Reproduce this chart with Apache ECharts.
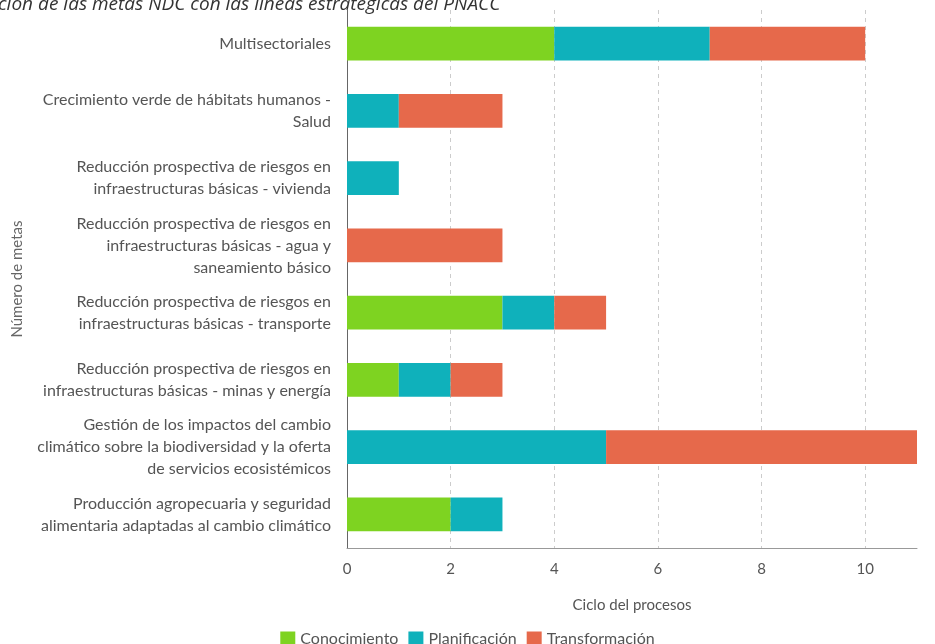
<!DOCTYPE html>
<html>
<head>
<meta charset="utf-8">
<script src="https://cdn.jsdelivr.net/npm/echarts@6/dist/echarts.min.js"></script>
<style>
  html, body { margin: 0; padding: 0; background: #fff; }
  #chart { width: 935px; height: 644px; }
</style>
</head>
<body>
<div id="chart"></div>
<script>
// categorias de arriba hacia abajo (eje category invertido)
var categorias = [
  'Multisectoriales',
  'Crecimiento verde de hábitats humanos -\nSalud',
  'Reducción prospectiva de riesgos en\ninfraestructuras básicas - vivienda',
  'Reducción prospectiva de riesgos en\ninfraestructuras básicas - agua y\nsaneamiento básico',
  'Reducción prospectiva de riesgos en\ninfraestructuras básicas - transporte',
  'Reducción prospectiva de riesgos en\ninfraestructuras básicas - minas y energía',
  'Gestión de los impactos del cambio\nclimático sobre la biodiversidad y la oferta\nde servicios ecosistémicos',
  'Producción agropecuaria y seguridad\nalimentaria adaptadas al cambio climático'
];
var conocimiento   = [4, 0, 0, 0, 3, 1, 0, 2];
var planificacion  = [3, 1, 1, 0, 1, 1, 5, 1];
var transformacion = [3, 2, 0, 3, 1, 1, 6, 0];
var ticksX = [0, 2, 4, 6, 8, 10];

var chart = echarts.init(document.getElementById('chart'));

var serie = function(nombre, datos, color){
  return {
    name: nombre,
    type: 'bar',
    stack: 'total',
    barWidth: '50%',
    itemStyle: { color: color },
    data: datos.map(function(v){ return v === 0 ? null : v; })
  };
};

var option = {
  textStyle: { fontFamily: 'Lato, "Open Sans", sans-serif' },
  graphic: [{
    type: 'text',
    left: -2,
    top: -5,
    style: {
      text: 'ción de las metas NDC con las líneas estratégicas del PNACC',
      font: 'italic 19px "Open Sans", sans-serif',
      fill: '#333'
    }
  }],
  legend: {
    bottom: -8,
    left: 'center',
    itemWidth: 15,
    itemHeight: 15,
    itemGap: 10,
    icon: 'rect',
    textStyle: { color: '#555', fontSize: 16, fontFamily: 'Lato' },
    data: ['Conocimiento', 'Planificación', 'Transformación']
  },
  grid: { left: 347, right: 18, top: 10, bottom: 96 },
  xAxis: {
    type: 'value',
    min: 0,
    max: 11,
    interval: 2,
    name: 'Ciclo del procesos',
    nameLocation: 'middle',
    nameGap: 50,
    nameTextStyle: { color: '#555', fontSize: 15 },
    axisLine: { show: true, lineStyle: { color: '#999' } },
    axisTick: { show: false },
    axisLabel: {
      color: '#555', fontSize: 15, margin: 14,
      formatter: function(v){ return ticksX.indexOf(v) >= 0 ? v : ''; }
    },
    splitLine: { show: true, showMaxLine: false, lineStyle: { color: '#ccc', type: [4, 4] } }
  },
  yAxis: {
    type: 'category',
    inverse: true,
    data: categorias,
    name: 'Número de metas',
    nameLocation: 'middle',
    nameGap: 322,
    nameRotate: 90,
    nameTextStyle: { color: '#666', fontSize: 15 },
    axisLine: { show: true, lineStyle: { color: '#666' } },
    axisTick: { show: false },
    axisLabel: { color: '#555', fontSize: 16, lineHeight: 22, margin: 16 }
  },
  series: [
    serie('Conocimiento', conocimiento, '#7ed321'),
    serie('Planificación', planificacion, '#0fb1bb'),
    serie('Transformación', transformacion, '#e6694b')
  ]
};
chart.setOption(option);
</script>
</body>
</html>
